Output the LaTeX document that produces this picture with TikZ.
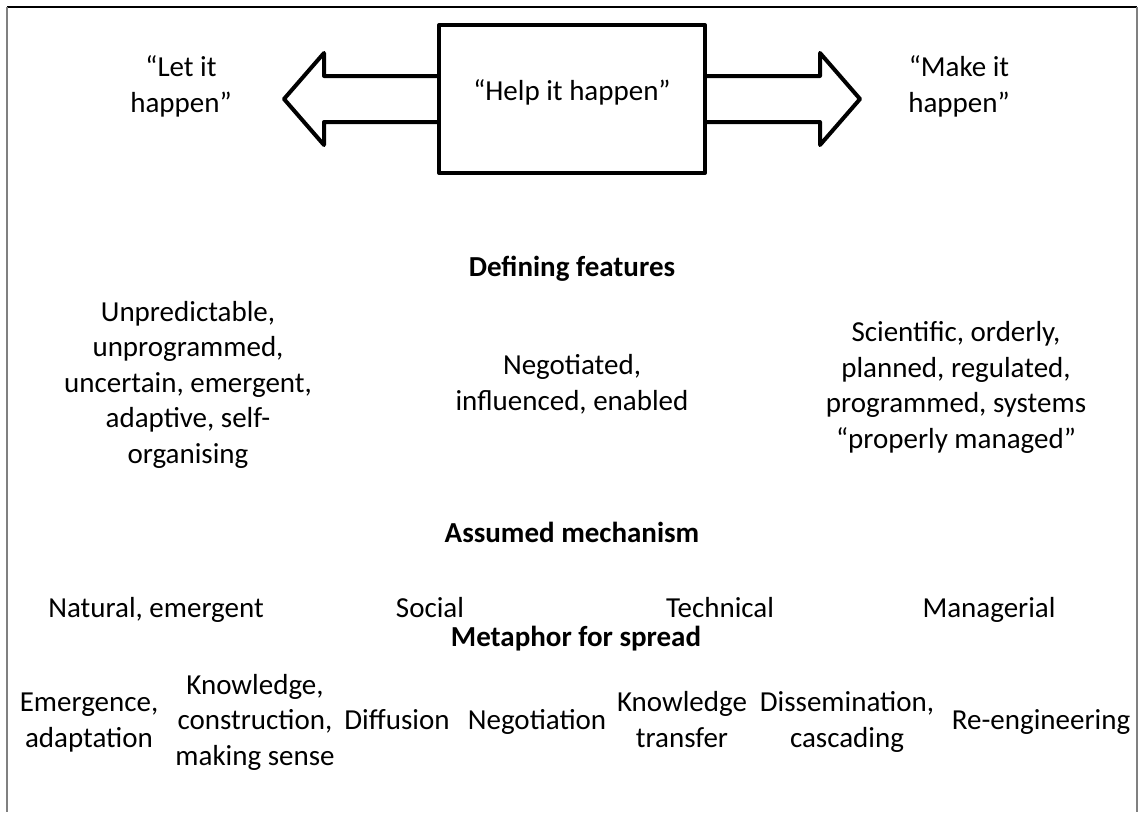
\documentclass[tikz,border=0pt]{standalone}
\usepackage{fontspec}
\setmainfont{Carlito}
\usetikzlibrary{calc}
\begin{document}
\begin{tikzpicture}[x=1pt,y=-1pt,
  txt/.style={align=center,anchor=base,inner sep=0pt,font=\fontsize{29}{35.4}\selectfont},
  head/.style={txt,font=\fontsize{29}{35.4}\selectfont\bfseries},
  outline/.style={draw=black,line width=4pt,line join=round},
  frameline/.style={line width=1.3pt},
]
\useasboundingbox (0,0) rectangle (1138,812);

% page frame
\draw[frameline] (7,7) -- (1137,7);
\draw[frameline,draw=gray] (7,7) -- (7,812);
\draw[frameline,draw=gray] (1137,7) -- (1137,812);

% central box with two block arrows
\node[draw,line width=4pt,line join=round,minimum width=266pt,minimum height=148pt,inner sep=0pt] (box) at (572,99) {};
\draw[outline] ($(box.west)+(0,-23)$) -- ++(-113,0) -- ++(0,-23) -- ++(-40,46)
  -- ++(40,46) -- ++(0,-23) -- ($(box.west)+(0,23)$);
\draw[outline] ($(box.east)+(0,-23)$) -- ++(113,0) -- ++(0,-23) -- ++(40,46)
  -- ++(-40,46) -- ++(0,-23) -- ($(box.east)+(0,23)$);

% (multi-line nodes are anchored at the baseline of their last line)
\node[txt] (help) at (572,100) {“Help it happen”};
\node[txt] (let) at (181,112) {“Let it\\happen”};
\node[txt] (make) at (959,112) {“Make it\\happen”};

% defining features
\node[head] (deff) at (572,276) {Defining features};
\node[txt] (unpred) at (188,463) {Unpredictable,\\unprogrammed,\\uncertain, emergent,\\adaptive, self-\\organising};
\node[txt] (nego) at (572,410) {Negotiated,\\influenced, enabled};
\node[txt] (sci) at (956,448) {Scientific, orderly,\\planned, regulated,\\programmed, systems\\“properly managed”};

% assumed mechanism
\node[head] (mech) at (572,542) {Assumed mechanism};
\node[txt] (nat) at (156,617) {Natural, emergent};
\node[txt] (soc) at (430,617) {Social};
\node[txt] (tech) at (720,617) {Technical};
\node[txt] (man) at (989,617) {Managerial};

% metaphor for spread
\node[head] (meta) at (576,646) {Metaphor for spread};
\node[txt] (emer) at (89,747) {Emergence,\\adaptation};
\node[txt] (know) at (255,765) {Knowledge,\\construction,\\making sense};
\node[txt] (diff) at (397,729) {Diffusion};
\node[txt] (neg) at (537,729) {Negotiation};
\node[txt] (kt) at (682,747) {Knowledge\\transfer};
\node[txt] (diss) at (847,747) {Dissemination,\\cascading};
\node[txt] (reeng) at (1041,729) {Re-engineering};
\end{tikzpicture}
\end{document}
